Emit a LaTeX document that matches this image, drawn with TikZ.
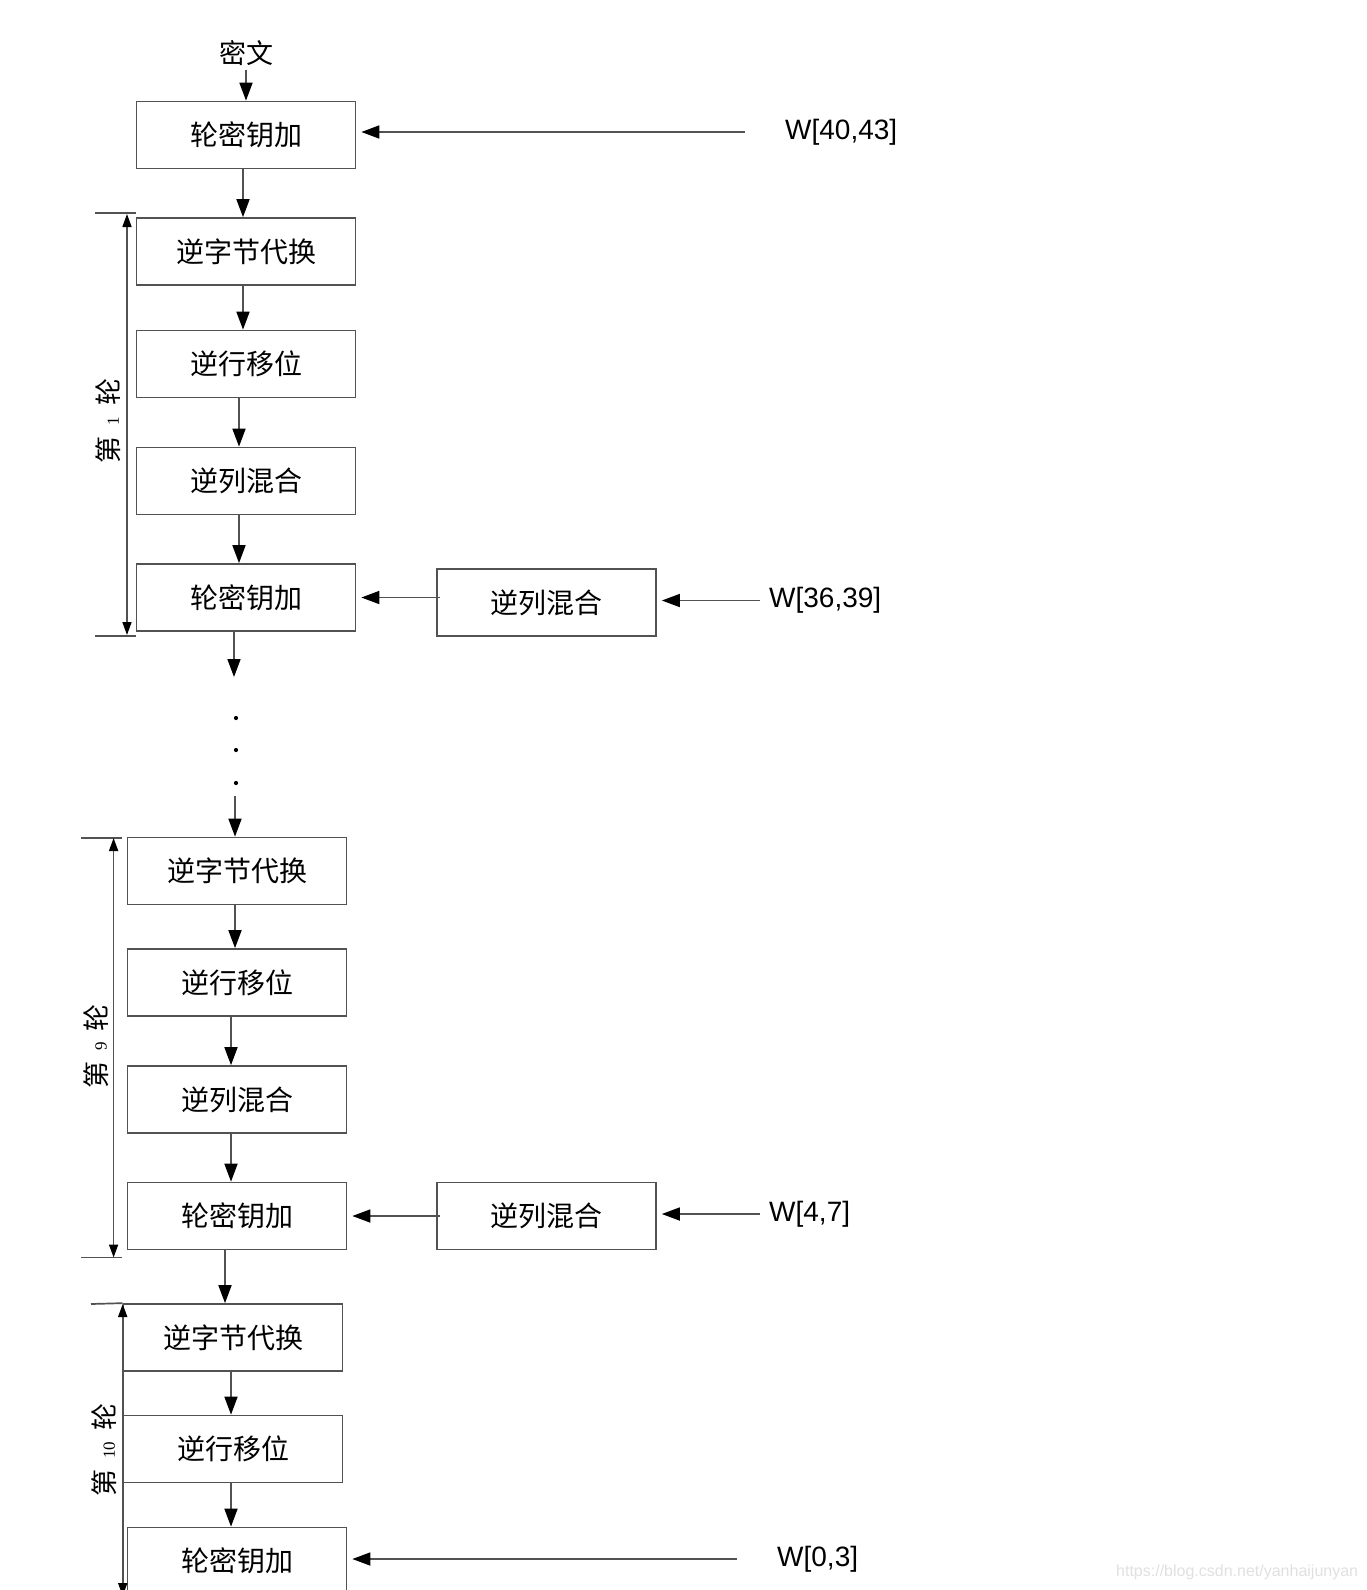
\documentclass[tikz,border=0pt]{standalone}
\usepackage{fontspec}
\setmainfont{Liberation Sans}
\newfontfamily\cjk{Noto Sans CJK SC}
\usepackage{tikz}
\usetikzlibrary{arrows.meta}

\begin{document}
\begin{tikzpicture}[x=1pt,y=-1pt,
		line width=1.7pt, color=black!68,
		box/.style={draw, minimum width=219pt, minimum height=67pt, inner sep=0pt,
			text=black, font=\cjk\fontsize{28}{30}\selectfont},
		arr/.style={-{Triangle[length=18pt,width=13pt,color=black]}},
		dim/.style={{Triangle[length=13pt,width=9pt,color=black]}-{Triangle[length=13pt,width=9pt,color=black]}},
		wlabel/.style={anchor=west, text=black, font=\fontsize{28}{30}\selectfont},
		roundlabel/.style={rotate=90, text=black, font=\cjk\fontsize{27}{29}\selectfont}]
		\useasboundingbox (0,0) rectangle (1366,1590);
		\newcommand{\nr}[1]{\hspace{0.4em}{\fontspec{Liberation Serif}\fontsize{17}{17}\selectfont #1}\hspace{0.4em}}

		% round 0
		\node[text=black, font=\cjk\fontsize{27}{29}\selectfont] (cipher) at (246,53) {密文};
		\node[box] (key0) at (246,135) {轮密钥加};
		\node[wlabel] (w0) at (781,132) {W[40,43]};
		\draw[arr] (cipher) -- (key0);
		\draw[arr, shorten <=36pt, shorten >=5pt] (w0.west) -- (w0.west -| key0.east);

		% round 1
		\node[box] (sub1) at (246,251.5) {逆字节代换};
		\node[box] (row1) at (246,364) {逆行移位};
		\node[box] (mix1) at (246,481) {逆列混合};
		\node[box] (key1) at (246,597.5) {轮密钥加};
		\node[box] (cmix1) at (546.5,602.5) {逆列混合};
		\node[wlabel] (w1) at (765,600.5) {W[36,39]};
		\draw[arr] ([xshift=-3pt]key0.south) -- ([xshift=-3pt]sub1.north);
		\draw[arr] ([xshift=-3pt]sub1.south) -- ([xshift=-3pt]row1.north);
		\draw[arr] ([xshift=-7pt]row1.south) -- ([xshift=-7pt]mix1.north);
		\draw[arr] ([xshift=-7pt]mix1.south) -- ([xshift=-7pt]key1.north);
		\draw[arr, shorten <=-4pt, shorten >=5pt] (cmix1.west |- key1.east) -- (key1.east);
		\draw[arr, shorten <=5pt, shorten >=5pt] (w1.west) -- (w1.west -| cmix1.east);
		\draw (sub1.north west) ++(0,-4) -- ++(-41,0);
		\draw (key1.south west) ++(0,4) -- ++(-41,0);
		\draw[dim] (127,214) -- (127,635);
		\node[roundlabel] (r1) at (108.5,421) {第\nr{1}轮};

		% gap
		\coordinate (gap1) at (234,677);
		\coordinate (gap2) at (235,796);
		\draw[arr] (key1.south -| gap1) -- (gap1);
		\foreach \y in {718,750,783}
			\fill[black] (236,\y) circle (2.1pt);

		% round 9
		\node[box] (sub9) at (237,871) {逆字节代换};
		\node[box] (row9) at (237,982.5) {逆行移位};
		\node[box] (mix9) at (237,1099.5) {逆列混合};
		\node[box] (key9) at (237,1216) {轮密钥加};
		\node[box] (cmix9) at (546.5,1216) {逆列混合};
		\node[wlabel] (w9) at (765,1214) {W[4,7]};
		\draw[arr] (gap2) -- (gap2 |- sub9.north);
		\draw[arr] ([xshift=-2pt]sub9.south) -- ([xshift=-2pt]row9.north);
		\draw[arr] ([xshift=-6pt]row9.south) -- ([xshift=-6pt]mix9.north);
		\draw[arr] ([xshift=-6pt]mix9.south) -- ([xshift=-6pt]key9.north);
		\draw[arr, shorten <=-4pt, shorten >=5pt] (cmix9.west |- key9.east) -- (key9.east);
		\draw[arr, shorten <=5pt, shorten >=5pt] (w9.west) -- (w9.west -| cmix9.east);
		\draw (81,838) -- (122,838);
		\draw (81,1257.5) -- (122,1257.5);
		\draw[dim] (113.6,838) -- (113.6,1257.5);
		\node[roundlabel] (r9) at (96.3,1046.5) {第\nr{9}轮};

		% round 10
		\node[box] (sub10) at (233,1337.5) {逆字节代换};
		\node[box] (row10) at (233,1449) {逆行移位};
		\node[box] (key10) at (237,1561) {轮密钥加};
		\node[wlabel] (w10) at (773,1559) {W[0,3]};
		\draw[arr] ([xshift=-12pt]key9.south) -- ([xshift=-8pt]sub10.north);
		\draw[arr] ([xshift=-2pt]sub10.south) -- ([xshift=-2pt]row10.north);
		\draw[arr] ([xshift=-2pt]row10.south) -- ([xshift=-6pt]key10.north);
		\draw[arr, shorten <=36pt, shorten >=5pt] (w10.west) -- (w10.west -| key10.east);
		\draw (91,1304) -- (sub10.north west);
		\draw[dim] (122.7,1304) -- (122.7,1596);
		\node[roundlabel] (r10) at (104.5,1450) {第\nr{10}轮};

		\node[anchor=west, text=black!12, font=\fontsize{16}{16}\selectfont] (mark) at (1112,1572) {https://blog.csdn.net/yanhaijunyan};
	\end{tikzpicture}
\end{document}
